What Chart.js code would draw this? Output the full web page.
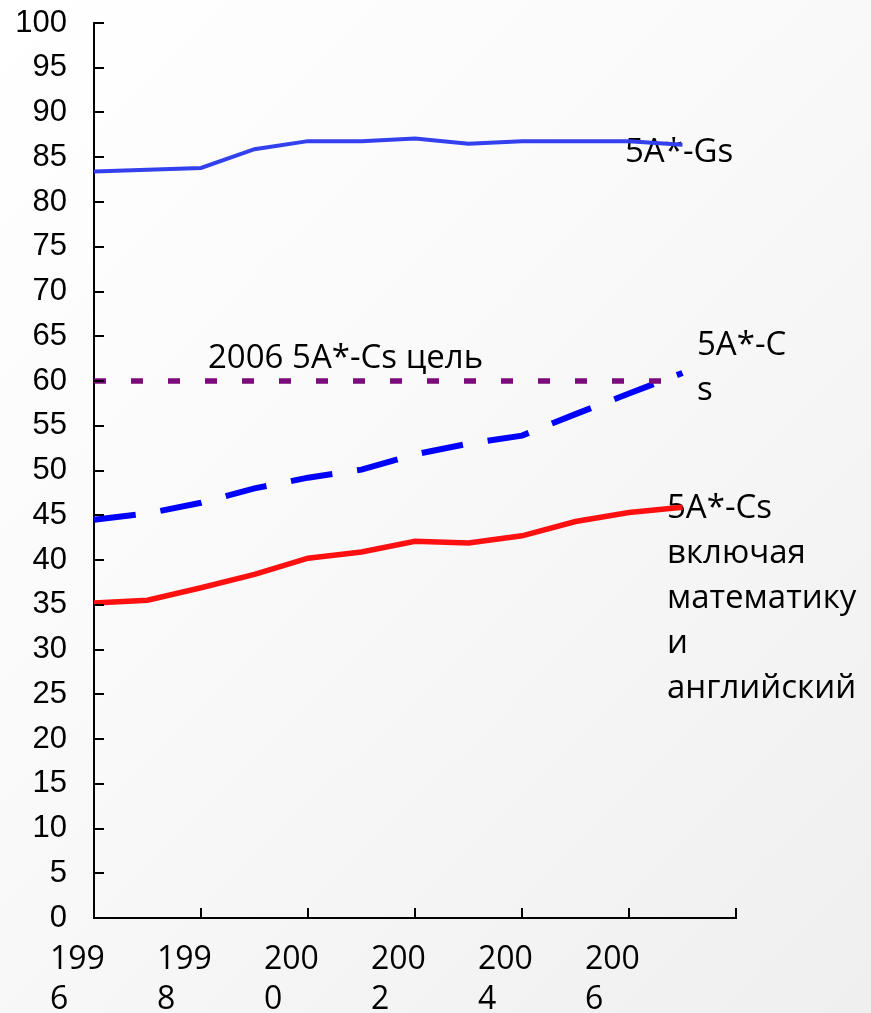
<!DOCTYPE html>
<html><head><meta charset="utf-8">
<script src="https://cdn.jsdelivr.net/npm/chart.js@4"></script>
<style>
html,body{margin:0;padding:0;}
body{width:871px;height:1013px;background:linear-gradient(135deg,#ffffff 0%,#fafafa 40%,#efefef 100%);overflow:hidden;}
#wrap{position:relative;width:871px;height:1013px;}
</style></head><body>
<div id="wrap"><canvas id="c"></canvas></div>
<script>
// ---- data ----
const years = ['1996','1997','1998','1999','2000','2001','2002','2003','2004','2005','2006','2007','2008'];
const gsValues   = [83.4, 83.6, 83.8, 85.9, 86.8, 86.8, 87.1, 86.5, 86.8, 86.8, 86.8, 86.4];
const csValues   = [44.5, 45.2, 46.4, 48.0, 49.2, 50.1, 51.8, 53.0, 53.9, 56.3, 58.6, 60.9];
const targetValues = [60, 60, 60, 60, 60, 60, 60, 60, 60, 60, 60, 60];
const csEmValues = [35.2, 35.5, 36.9, 38.4, 40.2, 40.9, 42.1, 41.9, 42.7, 44.3, 45.3, 45.9];
const labelGs = ['5A*-Gs'];
const labelTarget = ['2006 5A*-Cs цель'];
const labelCs = ['5A*-C', 's'];
const labelCsEm = ['5A*-Cs', 'включая', 'математику', 'и', 'английский'];

const LABEL_FONT = '33px "Open Sans", "Noto Sans", sans-serif';

const inwardTicks = {
  id: 'inwardTicks',
  afterDraw(chart) {
    const {ctx, chartArea: a, scales: {x, y}} = chart;
    ctx.save();
    ctx.strokeStyle = '#000';
    ctx.lineWidth = 2;
    ctx.beginPath();
    y.ticks.forEach(t => {
      const py = Math.round(y.getPixelForValue(t.value));
      ctx.moveTo(a.left, py); ctx.lineTo(a.left + 10, py);
    });
    for (let i = 0; i < years.length; i += 2) {
      const px = Math.round(x.getPixelForValue(i));
      ctx.moveTo(px, a.bottom); ctx.lineTo(px, a.bottom - 10);
    }
    ctx.stroke();
    ctx.restore();
  }
};

const annotations = {
  id: 'annotations',
  beforeDatasetsDraw(chart) {
    const ctx = chart.ctx;
    ctx.save();
    ctx.fillStyle = '#000';
    ctx.font = LABEL_FONT;
    ctx.textAlign = 'left';
    ctx.textBaseline = 'alphabetic';
    const drawLines = (lines, x, y, lh) => lines.forEach((s, i) => ctx.fillText(s, x, y + i * lh));
    drawLines(labelGs, 625, 162, 45);
    drawLines(labelTarget, 208, 368, 45);
    drawLines(labelCs, 697, 355, 45);
    drawLines(labelCsEm, 667, 518, 45);
    ctx.restore();
  }
};

function fixPad(s) { s.paddingTop = 0; s.paddingBottom = 0; s.paddingLeft = 0; s.paddingRight = 0; }

new Chart(document.getElementById('c'), {
  type: 'line',
  data: {
    labels: years,
    datasets: [
      { label: '5A*-Gs', data: gsValues, borderColor: '#3340EE', borderWidth: 4, pointRadius: 0, tension: 0, fill: false },
      { label: 'target', data: targetValues, borderColor: '#7B0A7B', borderWidth: 5.5, borderDash: [12, 25], borderCapStyle: 'butt', pointRadius: 0, fill: false },
      { label: '5A*-Cs', data: csValues, borderColor: '#0000FF', borderWidth: 6, borderDash: [42, 25], borderCapStyle: 'butt', pointRadius: 0, tension: 0, fill: false },
      { label: '5A*-Cs EM', data: csEmValues, borderColor: '#FF1010', borderWidth: 5.5, pointRadius: 0, tension: 0, fill: false }
    ]
  },
  options: {
    responsive: true,
    maintainAspectRatio: false,
    animation: false,
    events: [],
    layout: { padding: { top: 23, right: 135, left: 0, bottom: 0 } },
    plugins: { legend: { display: false }, tooltip: { enabled: false }, title: { display: false } },
    scales: {
      x: {
        type: 'category',
        offset: false,
        grid: { display: false, drawTicks: false },
        border: { display: true, color: '#000', width: 2 },
        afterFit(s) { s.height = 95; fixPad(s); },
        ticks: {
          autoSkip: false, maxRotation: 0, minRotation: 0,
          align: 'start', labelOffset: -44, padding: 22,
          color: '#000',
          font: { family: '"Open Sans", "Noto Sans", sans-serif', size: 32, lineHeight: 1.25 },
          callback(value, index) {
            const s = years[index];
            if (index % 2 !== 0 || index === years.length - 1) return '';
            return [s.slice(0, 3), s.slice(3)];
          }
        }
      },
      y: {
        min: 0, max: 100,
        grid: { display: false, drawTicks: false },
        border: { display: true, color: '#000', width: 2 },
        afterFit(s) { s.width = 94; fixPad(s); },
        ticks: {
          stepSize: 5, padding: 27, color: '#000',
          font: { family: '"Liberation Sans", Arial, sans-serif', size: 31 }
        }
      }
    }
  },
  plugins: [inwardTicks, annotations]
});
</script>
</body></html>
